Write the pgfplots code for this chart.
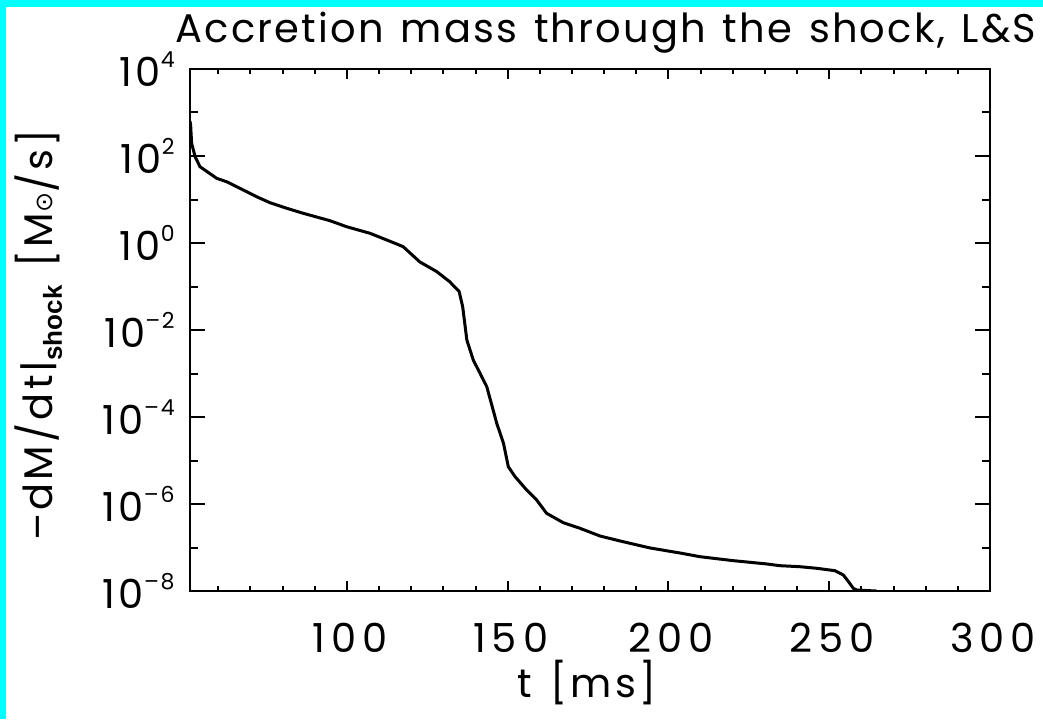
\documentclass[border=0pt]{standalone}
\usepackage{fontspec}
\setmainfont{Poppins}[LetterSpace=8, WordSpace=1.3]
\newfontfamily\titlef{Poppins}[LetterSpace=5.5, WordSpace=1.3]
\newfontfamily\tickf{Poppins}[LetterSpace=15]
\newfontfamily\libsans{Liberation Sans}
\newfontfamily\djv{DejaVu Sans}
\usepackage{pgfplots}
\pgfplotsset{compat=1.18}
\definecolor{cy}{RGB}{0,255,255}
\newcommand\ee[1]{10\raisebox{9.5pt}{\fontsize{11}{11}\selectfont #1}}
\begin{document}
\begin{tikzpicture}
\path[use as bounding box] (-95pt,-64pt) rectangle (426.5pt,295.5pt);
\fill[cy] (-95pt,-64pt) rectangle (-92pt,295.5pt);
\fill[cy] (-95pt,292pt) rectangle (426.5pt,295.5pt);
\begin{axis}[scale only axis, width=400pt, height=261pt,
  at={(0pt,0pt)}, anchor=south west, xmin=51.2, xmax=300,
  ymode=log, ymin=1e-8, ymax=1e4,
  axis line style={line width=1pt}, tick style={line width=1pt, black},
  tick align=inside, font=\fontsize{20}{24}\selectfont,
  ytick={1e-8,1e-6,1e-4,1e-2,1,1e2,1e4},
  yticklabels={\ee{–8},\ee{–6},\ee{–4},\ee{–2},\ee{0},\ee{2},\ee{4}},
  minor ytick={1e-7,1e-5,1e-3,1e-1,1e1,1e3},
  major tick length=7.5pt, minor tick length=4pt,
  yticklabel style={inner sep=0pt, xshift=-7.5pt},
  xtick=\empty]
\addplot[black, line width=1.5pt] coordinates {
(51.2,631) (51.4,516) (51.7,196) (52.8,96.4) (54.3,56.8) (59.5,30.7)
(62.6,25.6) (65.7,19.7) (71.9,11.6) (76.1,8.43) (81.3,6.28) (86.4,4.82)
(94.7,3.26) (99.9,2.37) (107.2,1.67) (115.5,0.948) (117.5,0.822)
(122.7,0.366) (127.9,0.221) (131.9,0.130) (134.9,0.0767) (136.0,0.0344)
(137.3,5.89e-3) (139.3,2.04e-3) (143.5,4.98e-4) (146.6,7.16e-5)
(148.7,2.48e-5) (150.2,7.19e-6) (152.3,4.25e-6) (155.9,2.10e-6)
(159.0,1.24e-6) (162.1,6.11e-7) (167.3,3.72e-7) (172.5,2.76e-7)
(178.7,1.84e-7) (185.0,1.41e-7) (194.3,9.75e-8) (203.6,7.48e-8)
(209.8,6.15e-8) (220.2,4.98e-8) (225.4,4.57e-8) (230.6,4.18e-8)
(234.7,3.82e-8) (240.9,3.62e-8) (246.1,3.33e-8) (251.8,2.93e-8)
(254.4,2.33e-8) (256.0,1.64e-8) (257.5,1.15e-8) (258.6,1.05e-8)
(264.7,1.0e-8)
};
\end{axis}
\begin{axis}[scale only axis, width=400pt, height=261pt,
  at={(0pt,0pt)}, anchor=south west, xmin=51.2, xmax=300,
  ymin=0, ymax=1,
  axis line style={line width=1pt}, tick style={line width=1pt, black},
  tick align=inside, font=\fontsize{20}{24}\selectfont\tickf,
  xtick={100,150,200,250,300},
  xticklabels={100,150,200,250,300},
  minor xtick={60,70,...,290},
  major tick length=5pt, minor tick length=2.5pt,
  xticklabel style={inner sep=0pt, yshift=-16pt, xshift=1.5pt},
  ytick=\empty]
\end{axis}
\node[anchor=base, inner sep=0pt, font=\fontsize{20}{24}\selectfont\titlef] at (208pt,274pt)
  {Accretion mass through the shock, L\&S};
\node[anchor=base, font=\fontsize{20}{24}\selectfont] at (198.5pt,-53pt)
  {t [ms]};
\node[anchor=base, rotate=90, font=\fontsize{20}{24}\selectfont] at (-68.5pt,128pt)
  {–dM/dt|\raisebox{-4.5pt}{\libsans\bfseries\fontsize{13}{13}\selectfont shock} [M{\djv\fontsize{12}{12}\selectfont ⊙}/s]};
\end{tikzpicture}
\end{document}
